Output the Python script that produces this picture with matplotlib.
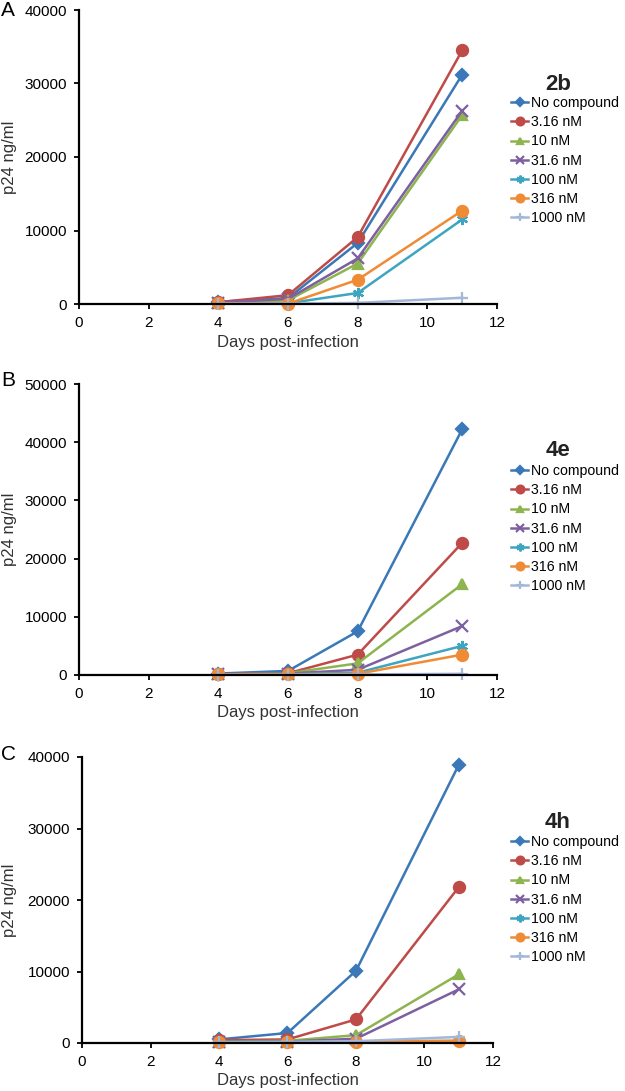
import matplotlib
matplotlib.use("Agg")
import matplotlib.pyplot as plt

plt.rcParams['font.family'] = ['Liberation Sans', 'DejaVu Sans']

days = [4, 6, 8, 11]
series_labels = ["No compound", "3.16 nM", "10 nM", "31.6 nM", "100 nM", "316 nM", "1000 nM"]

# Panel A (2b)
a_values = [
    [300, 800, 8300, 31200],
    [250, 1200, 9100, 34500],
    [100, 500, 5500, 25700],
    [200, 700, 6200, 26300],
    [100, 100, 1500, 11500],
    [100, 50, 3300, 12700],
    [50, 50, 150, 850],
]
# Panel B (4e)
b_values = [
    [250, 700, 7500, 42200],
    [150, 300, 3500, 22700],
    [100, 300, 2000, 15600],
    [100, 250, 900, 8400],
    [100, 150, 400, 5000],
    [100, 100, 200, 3500],
    [50, 50, 100, 200],
]
# Panel C (4h)
c_values = [
    [500, 1400, 10100, 38900],
    [400, 500, 3300, 21800],
    [200, 300, 1100, 9600],
    [150, 200, 600, 7500],
    [100, 150, 200, 300],
    [100, 100, 200, 300],
    [100, 150, 250, 850],
]

panel_titles = ["2b", "4e", "4h"]
panel_letters = ["A", "B", "C"]
y_maxes = [40000, 50000, 40000]

colors = ["#3A78B8", "#BE4B48", "#8DB44E", "#7D60A0", "#3EA5C0", "#F08B35", "#A3B8D9"]
markers = ["D", "o", "^", "x", (6, 2, 0), "o", "+"]
msizes = [6, 8, 7, 8, 8, 8, 9]

fig = plt.figure(figsize=(6.25, 10.91), dpi=100)
W, H = 625, 1091

def rect(l, t, r, b):
    return [l / W, 1 - b / H, (r - l) / W, (b - t) / H]

px = [(79, 10, 497, 304), (79, 384, 497, 675), (82, 757, 493, 1043)]
letter_pos = [(1, 11), (1, 381), (1, 755)]
legend_top = [96, 464, 835]
title_y = [85, 450, 822]
xlabel_y = [342, 713, 1081]

for i, vals in enumerate([a_values, b_values, c_values]):
    l, t, r, b = px[i]
    ax = fig.add_axes(rect(l, t, r, b))
    for j, lab in enumerate(series_labels):
        ax.plot(days, vals[j], color=colors[j], marker=markers[j], ms=msizes[j],
                mew=1.6, lw=1.8, label=lab, clip_on=False)
    ax.set_xlim(0, 12)
    ax.set_ylim(0, y_maxes[i])
    ax.set_xticks(range(0, 13, 2))
    ax.set_yticks(range(0, y_maxes[i] + 1, 10000))
    for s in ["top", "right"]:
        ax.spines[s].set_visible(False)
    for s in ["left", "bottom"]:
        ax.spines[s].set_linewidth(1.6)
    ax.tick_params(axis='both', labelsize=11, width=1.3, length=3.5, direction='out')
    ax.tick_params(axis='y', pad=5)
    ax.tick_params(axis='x', pad=5)
    fig.text(10 / W, 1 - ((t + b) / 2) / H, "p24 ng/ml", rotation=90,
             ha='center', va='center', fontsize=12, color='#333333')
    fig.text(((l + r) / 2) / W, 1 - xlabel_y[i] / H, "Days post-infection",
             ha='center', va='center', fontsize=12, color='#333333')
    fig.text(letter_pos[i][0] / W, 1 - letter_pos[i][1] / H, panel_letters[i],
             ha='left', va='center', fontsize=15)
    fig.text(558 / W, 1 - title_y[i] / H, panel_titles[i], ha='center', va='center',
             fontsize=16, fontweight='bold', color='#222222')
    ax.legend(loc='upper left', bbox_to_anchor=(511 / W, 1 - legend_top[i] / H),
              bbox_transform=fig.transFigure, frameon=False, fontsize=10.2,
              handlelength=1.2, handletextpad=0.2, labelspacing=0.37,
              borderpad=0, borderaxespad=0, markerscale=0.7)

fig.savefig("out.png", dpi=100)
